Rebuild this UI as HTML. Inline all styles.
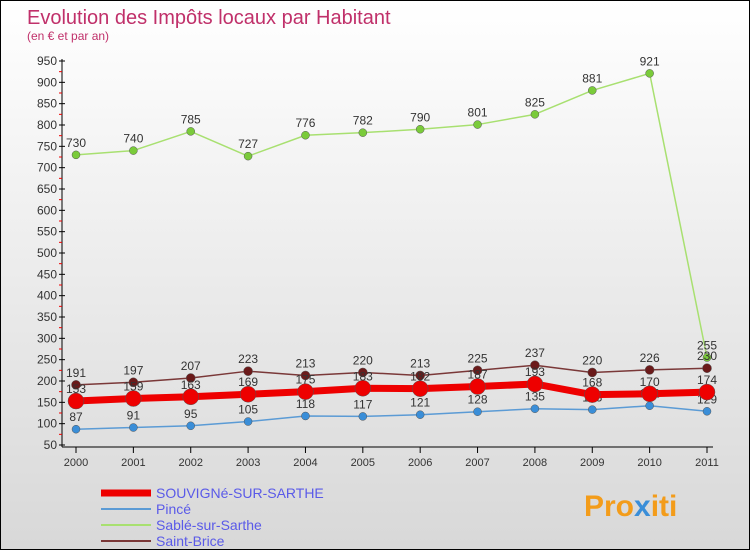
<!DOCTYPE html>
<html><head><meta charset="utf-8"><style>
body{margin:0;}
#wrap{width:750px;height:550px;position:relative;overflow:hidden;border:1px solid #000;box-sizing:border-box;background:linear-gradient(#fff,#d8d8d8);font-family:"Liberation Sans",sans-serif;}
</style></head><body>
<div id="wrap">
<svg id="c" width="750" height="550" style="position:absolute;left:0;top:0">
<text x="26" y="23" font-size="20" fill="#c0306a">Evolution des Impôts locaux par Habitant</text>
<text x="26" y="39" font-size="12" fill="#c0306a">(en € et par an)</text>
<text x="583" y="515" font-size="30" font-weight="bold" fill="#f39c1a">Pro<tspan fill="#3a8ed8">x</tspan>iti</text>
</svg>
</div>
<script>
const years=["2000","2001","2002","2003","2004","2005","2006","2007","2008","2009","2010","2011"];
const souvigne=[153,159,163,169,175,183,182,187,193,168,170,174];
const pince=[87,91,95,105,118,117,121,128,135,133,142,129];
const sable=[730,740,785,727,776,782,790,801,825,881,921,255];
const brice=[191,197,207,223,213,220,213,225,237,220,226,230];
const yTicks=[50,100,150,200,250,300,350,400,450,500,550,600,650,700,750,800,850,900,950];
const svg=document.getElementById('c');const NS='http://www.w3.org/2000/svg';
const X=i=>75+i*(706-75)/11;const Y=v=>444-(v-50)*384/900;
function mk(t,a,p){const e=document.createElementNS(NS,t);for(const k in a)e.setAttribute(k,a[k]);(p||svg).appendChild(e);return e;}
const ax=mk('g',{});


mk('line',{x1:61,y1:58,x2:61,y2:446,stroke:'#000'},ax);
mk('line',{x1:61,y1:446,x2:712,y2:446,stroke:'#000'},ax);
yTicks.forEach((v,i)=>{mk('line',{x1:58,x2:64,y1:Y(v),y2:Y(v),stroke:'#000'},ax);
if(i<yTicks.length-1)mk('line',{x1:58,x2:61,y1:Y(v+25),y2:Y(v+25),stroke:'#e00'},ax);
const t=mk('text',{x:56,y:Y(v)+4,'text-anchor':'end','font-size':12,fill:'#333'},ax);t.textContent=v;

});
years.forEach((y,i)=>{mk('line',{x1:X(i),x2:X(i),y1:446,y2:452,stroke:'#000'},ax);
const t=mk('text',{x:X(i),y:465,'text-anchor':'middle','font-size':11,fill:'#333'},ax);t.textContent=y;

});
function series(vals,color,w,r,name,fill){const g=mk('g',{});


mk('polyline',{points:vals.map((v,i)=>X(i)+','+Y(v)).join(' '),fill:'none',stroke:color,'stroke-width':w,'stroke-linejoin':'round'},g);
vals.forEach((v,i)=>{const c=mk('circle',{cx:X(i),cy:Y(v),r:r,fill:fill,stroke:'#555','stroke-width':0.5},g);


const t=mk('text',{x:X(i),y:Y(v)-8,'text-anchor':'middle','font-size':12,fill:'#333'},g);t.textContent=v;

});}
series(pince,'#5b9bd5',1.5,4,'series-pince','#3a8ed8');
series(sable,'#a8e070',1.5,4,'series-sable','#7acb3a');
series(brice,'#7a3838',1.5,4.5,'series-saint-brice','#6b1a1a');
series(souvigne,'#ee0000',7,8,'series-souvigne','#ee0000');
const leg=[['SOUVIGNé-SUR-SARTHE','#ee0000',7],['Pincé','#5b9bd5',2],['Sablé-sur-Sarthe','#a8e070',2],['Saint-Brice','#7a3838',2]];
leg.forEach((l,i)=>{const g=mk('g',{});


const y=492+i*16;mk('line',{x1:100,x2:150,y1:y,y2:y,stroke:l[1],'stroke-width':l[2]},g);
const t=mk('text',{x:155,y:y+5,'font-size':14,fill:'#5a5ae8'},g);t.textContent=l[0];});
</script>
</body></html>
